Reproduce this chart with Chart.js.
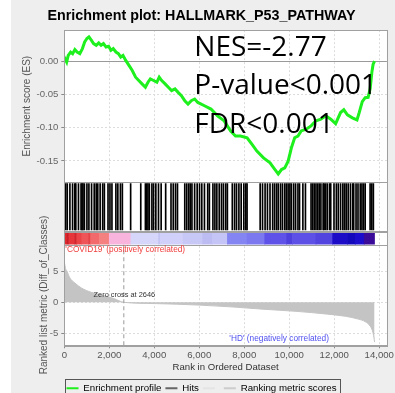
<!DOCTYPE html>
<html>
<head>
<meta charset="utf-8">
<title>Enrichment plot: HALLMARK_P53_PATHWAY</title>
<script src="https://cdn.jsdelivr.net/npm/chart.js@4.4.1/dist/chart.umd.min.js"></script>
<style>
  html, body { margin: 0; padding: 0; background: #fff; overflow: hidden; }
  #panel { position: absolute; left: 11px; top: 0; width: 384px; height: 393px; background: #eeeeee; overflow: hidden; }
</style>
</head>
<body>
<div id="panel"><canvas id="gsea" width="384" height="403"></canvas></div>
<script>
// running enrichment score along the ranked list
const esRank = [0, 30, 105, 175, 280, 370, 470, 570, 690, 805, 905, 1005, 1095, 1200, 1300, 1420, 1530, 1635, 1740, 1855,
  1970, 2075, 2175, 2295, 2405, 2510, 2610, 2730, 2875, 3020, 3170, 3310, 3455, 3605, 3720, 3825, 3970, 4115, 4220, 4330,
  4480, 4625, 4770, 4920, 5060, 5205, 5355, 5500, 5645, 5795, 5935, 6230, 6520, 6810, 7105, 7395, 7610, 7830, 8125, 8345,
  8560, 8855, 9145, 9365, 9510, 9655, 9800, 9950, 10095, 10240, 10385, 10530, 10750, 10970, 11185, 11405, 11625, 11845, 12060, 12280,
  12425, 12585, 12805, 13010, 13110, 13245, 13375, 13505, 13595, 13670, 13725, 13790];
const esScore = [0, 0.0036, -0.0015, 0.0086, 0.0136, 0.0112, 0.0173, 0.0136, 0.0112, 0.0188,
  0.0288, 0.0339, 0.0364, 0.0314, 0.0264, 0.0238, 0.0273, 0.0238, 0.0264, 0.0212,
  0.0223, 0.0162, 0.0188, 0.0136, 0.0112, 0.0061, 0.0086, 0.0011, -0.0065, -0.0141,
  -0.0242, -0.0292, -0.0342, -0.0394, -0.0318, -0.0267, -0.0292, -0.0318, -0.0242, -0.0292,
  -0.0342, -0.0394, -0.0444, -0.0418, -0.0470, -0.0520, -0.0595, -0.0645, -0.0595, -0.0570,
  -0.0621, -0.0671, -0.0721, -0.0823, -0.0898, -0.1050, -0.1126, -0.1126, -0.1152, -0.1252,
  -0.1353, -0.1455, -0.1530, -0.1630, -0.1697, -0.1630, -0.1606, -0.1505, -0.1303, -0.1152,
  -0.1126, -0.1050, -0.1024, -0.0974, -0.0898, -0.0873, -0.0823, -0.0873, -0.0940, -0.0773,
  -0.0732, -0.0808, -0.0853, -0.0883, -0.0773, -0.0610, -0.0550, -0.0545, -0.0414, -0.0171, -0.0050, 0];

// positions of gene set members in the ranked list
const hitRanks = [61, 131, 249, 368, 468, 512, 630, 744, 788, 831, 893, 1006, 1094, 1212, 1330, 1418, 1488, 1593, 1706, 1781,
  1943, 2030, 2118, 2293, 2380, 2494, 2581, 2949, 3399, 3605, 3662, 3719, 3780, 3894, 3968, 4069, 4187, 4305, 4506, 4743,
  4843, 4944, 5031, 5355, 5443, 5530, 5600, 5674, 5793, 5906, 6011, 6112, 6230, 6374, 6449, 6606, 6694, 6781, 6886, 6987,
  7074, 7175, 7249, 7468, 7569, 7656, 7761, 7862, 7980, 8068, 8124, 8706, 8811, 8925, 9030, 9144, 9262, 9349, 9437, 9511,
  9612, 9699, 9800, 9874, 9949, 10028, 10093, 10194, 10281, 10386, 10456, 10605, 10719, 10968, 11042, 11113, 11187, 11261, 11331, 11406,
  11506, 11550, 11624, 11699, 11799, 11843, 11988, 12093, 12180, 12281, 12381, 12456, 12530, 12618, 12719, 12819, 12863, 12968, 13055, 13156,
  13230, 13300, 13374, 13593, 13668, 13738];

// ranked list metric (Diff_of_Classes)
const metricRank = [0, 60, 120, 250, 470, 760, 1200, 1780, 2200, 2646, 4000, 6000, 7500, 8800, 10300, 11700, 12500, 13070, 13370, 13590, 13700, 13765, 13790];
const metricValue = [6.5, 5.4, 5.0, 3.9, 3.1, 2.3, 1.6, 1.05, 0.6, 0, -0.2, -0.45, -0.75, -1.1, -1.45, -1.9, -2.25, -2.7, -3.1, -3.8, -4.6, -5.7, -6.4];
const zeroCross = 2646;

// heat bar under the hits
const bandStart = [0, 120, 205, 470, 555, 775, 1080, 1170, 1560, 2000, 2960, 4185, 4270, 5280, 6150, 6590, 7250, 8125, 8910, 9875, 10140, 11185, 11930, 12585, 12935, 13330];
const bandEnd = [120, 205, 470, 555, 775, 1080, 1170, 1560, 2000, 2960, 4185, 4270, 5280, 6150, 6590, 7250, 8125, 8910, 9875, 10140, 11185, 11930, 12585, 12935, 13330, 13790];
const bandColor = ['#e02a30', '#c81e28', '#e6363c', '#d02830', '#ea4448', '#ee5458', '#e44448', '#f26a6c', '#f58080', '#f8b4dc',
  '#d6d6fb', '#c4c4f4', '#d0d0fa', '#c8c8f7', '#bcbcf3', '#c4c4f6', '#8484f2', '#7c78f0', '#5e52e8', '#4e40dc',
  '#5c50e6', '#5244de', '#1c0cc8', '#1408bc', '#1c0ccc', '#3a0a98'];

const rankTicks = [0, 2000, 4000, 6000, 8000, 10000, 12000, 14000];
const statLines = ['NES=-2.77', 'P-value<0.001', 'FDR<0.001'];

Chart.defaults.font.family = '"Liberation Sans", Arial, sans-serif';

const axisWidth = 53.3;
const isZero = ctx => ctx.tick && Math.abs(ctx.tick.value) < 1e-9;

const plotBackground = {
  id: 'plotBackground',
  beforeDraw(chart) {
    const {ctx, chartArea: a} = chart;
    ctx.save();
    ctx.fillStyle = '#fff';
    ctx.fillRect(a.left, a.top, a.right - a.left, a.bottom - a.top);
    ctx.restore();
  }
};

const panelFrames = {
  id: 'panelFrames',
  afterDatasetsDraw(chart) {
    const {ctx, chartArea: a, scales} = chart;
    ctx.save();
    ctx.strokeStyle = '#a0a0a0';
    ctx.lineWidth = 1;
    ['y', 'yHits', 'yBar', 'yMetric'].forEach(id => {
      const s = scales[id];
      ctx.strokeRect(Math.round(a.left) + 0.5, Math.round(s.top) + 0.5, Math.round(a.right - a.left), Math.round(s.bottom - s.top));
    });
    ctx.restore();
  }
};

const overlayText = {
  id: 'overlayText',
  afterDatasetsDraw(chart) {
    const {ctx, chartArea: a, scales} = chart;
    const x = scales.x, ym = scales.yMetric;
    ctx.save();
    ctx.textAlign = 'left';
    ctx.textBaseline = 'middle';
    ctx.font = '7.4px "Liberation Sans"';
    ctx.fillStyle = '#333';
    ctx.fillText('Zero cross at ' + zeroCross, x.getPixelForValue(1300), ym.getPixelForValue(1.2));
    ctx.font = '8.3px "Liberation Sans"';
    ctx.fillStyle = '#f03c3c';
    ctx.fillText("'COVID19' (positively correlated)", a.left + 1, ym.top + 5.5);
    ctx.fillStyle = '#5050f0';
    ctx.textAlign = 'center';
    ctx.fillText("'HD' (negatively correlated)", x.getPixelForValue(9550), ym.getPixelForValue(-5.9));
    ctx.font = '28px "Open Sans"';
    ctx.fillStyle = '#000';
    ctx.textAlign = 'left';
    ctx.textBaseline = 'alphabetic';
    statLines.forEach((s, i) => ctx.fillText(s, a.left + 130, a.top + 25.5 + i * 38.5));
    ctx.restore();
  }
};

const legendFrame = {
  id: 'legendFrame',
  afterDraw(chart) {
    const boxes = chart.legend && chart.legend.legendHitBoxes;
    if (!boxes || !boxes.length) return;
    const left = Math.min(...boxes.map(b => b.left)) - 2;
    const right = Math.max(...boxes.map(b => b.left + b.width)) + 3;
    const top = Math.min(...boxes.map(b => b.top)) - 4;
    const ctx = chart.ctx;
    ctx.save();
    ctx.strokeStyle = '#555';
    ctx.lineWidth = 1;
    ctx.strokeRect(Math.round(left) + 0.5, Math.round(top) + 0.5, Math.round(right - left), 40);
    ctx.restore();
  }
};

const legendItems = [
  {text: 'Enrichment profile', color: '#1ef01e'},
  {text: 'Hits', color: '#666666'},
  {text: '', color: '#e4e4e4'},
  {text: 'Ranking metric scores', color: '#cccccc'}
];

const stackedAxis = (weight, stackWeight) => ({
  type: 'linear',
  position: 'left',
  stack: 'gsea',
  stackWeight: stackWeight,
  weight: weight,
  offset: false,
  afterFit: s => { s.width = axisWidth; }
});

new Chart(document.getElementById('gsea'), {
  type: 'line',
  data: {
    datasets: [
      {
        type: 'line',
        label: 'Enrichment profile',
        data: esRank.map((r, i) => ({x: r, y: esScore[i]})),
        yAxisID: 'y',
        borderColor: '#1ef01e',
        borderWidth: 3,
        pointRadius: 0,
        tension: 0
      },
      {
        type: 'line',
        label: 'Zero cross',
        data: [{x: zeroCross, y: -6.9}, {x: zeroCross, y: 9.27}],
        yAxisID: 'yMetric',
        borderColor: '#9a9a9a',
        borderWidth: 1,
        borderDash: [4, 3],
        pointRadius: 0
      },
      {
        type: 'line',
        label: 'Ranking metric scores',
        data: metricRank.map((r, i) => ({x: r, y: metricValue[i]})),
        yAxisID: 'yMetric',
        borderColor: '#c4c4c4',
        backgroundColor: '#c4c4c4',
        borderWidth: 1,
        fill: 'origin',
        cubicInterpolationMode: 'monotone',
        pointRadius: 0
      },
      {
        type: 'bar',
        label: 'Hits',
        data: hitRanks.map(r => ({x: r, y: [0.03, 0.97]})),
        yAxisID: 'yHits',
        backgroundColor: '#000',
        barThickness: 1,
        grouped: false,
        borderWidth: 0
      },
      {
        type: 'bar',
        label: 'Heat bar',
        indexAxis: 'y',
        data: bandStart.map((s, i) => ({x: [s, bandEnd[i]], y: 0.5})),
        xAxisID: 'x',
        yAxisID: 'yBar',
        backgroundColor: bandColor,
        barThickness: 13.5,
        grouped: false,
        borderWidth: 0
      }
    ]
  },
  options: {
    responsive: false,
    animation: false,
    layout: {padding: {left: 0, right: 3, top: 0, bottom: 0}},
    scales: {
      x: {
        type: 'linear',
        min: 0,
        max: 14340,
        offset: false,
        afterBuildTicks: s => { s.ticks = rankTicks.map(v => ({value: v})); },
        ticks: {maxRotation: 0, autoSkip: false, padding: 1, color: '#555', font: {size: 9.6}},
        grid: {offset: false, color: '#dcdcdc', tickLength: 3, tickColor: '#888', tickBorderDash: []},
        border: {color: '#a0a0a0', dash: [2, 2]},
        title: {display: true, text: 'Rank in Ordered Dataset', color: '#333', font: {size: 9.6}, padding: {top: 0, bottom: 6}}
      },
      y: Object.assign(stackedAxis(4, 151), {
        min: -0.182,
        max: 0.0465,
        ticks: {stepSize: 0.05, includeBounds: false, padding: 3, color: '#666', font: {size: 9.6},
          callback: v => (Math.abs(v) < 1e-9 ? 0 : v).toFixed(2)},
        grid: {color: ctx => isZero(ctx) ? '#9a9a9a' : '#dcdcdc', tickLength: 3, tickColor: '#888', tickBorderDash: []},
        border: {color: '#a0a0a0', dash: ctx => isZero(ctx) ? [] : [2, 2]},
        title: {display: true, text: 'Enrichment score (ES)', color: '#555', font: {size: 10}, padding: {top: 10, bottom: 0}}
      }),
      yHits: Object.assign(stackedAxis(3, 49), {
        min: 0, max: 1,
        ticks: {display: false},
        grid: {display: false},
        border: {display: false}
      }),
      yBar: Object.assign(stackedAxis(2, 13), {
        min: 0, max: 1,
        ticks: {display: false},
        grid: {display: false, offset: false},
        border: {display: false}
      }),
      yMetric: Object.assign(stackedAxis(1, 100), {
        min: -6.9,
        max: 9.27,
        ticks: {stepSize: 5, includeBounds: false, padding: 3, color: '#666', font: {size: 9.6}},
        grid: {color: '#dcdcdc', tickLength: 3, tickColor: '#888', tickBorderDash: []},
        border: {color: '#a0a0a0', dash: [2, 2]},
        title: {display: true, text: 'Ranked list metric (Diff_of_Classes)', color: '#555', font: {size: 10}, padding: {top: 27, bottom: 0}}
      })
    },
    plugins: {
      title: {
        display: true,
        text: 'Enrichment plot: HALLMARK_P53_PATHWAY',
        color: '#000',
        font: {size: 14.3, weight: 'bold'},
        padding: {top: 7, bottom: 6}
      },
      legend: {
        position: 'bottom',
        labels: {
          usePointStyle: true,
          pointStyleWidth: 12,
          boxHeight: 10,
          padding: 4,
          color: '#222',
          font: {size: 9.7},
          generateLabels: () => legendItems.map((it, i) => ({
            text: it.text,
            strokeStyle: it.color,
            fillStyle: it.color,
            lineWidth: 2,
            pointStyle: 'line',
            hidden: false,
            datasetIndex: i
          }))
        }
      },
      tooltip: {enabled: false}
    }
  },
  plugins: [plotBackground, panelFrames, overlayText, legendFrame]
});
</script>
</body>
</html>
